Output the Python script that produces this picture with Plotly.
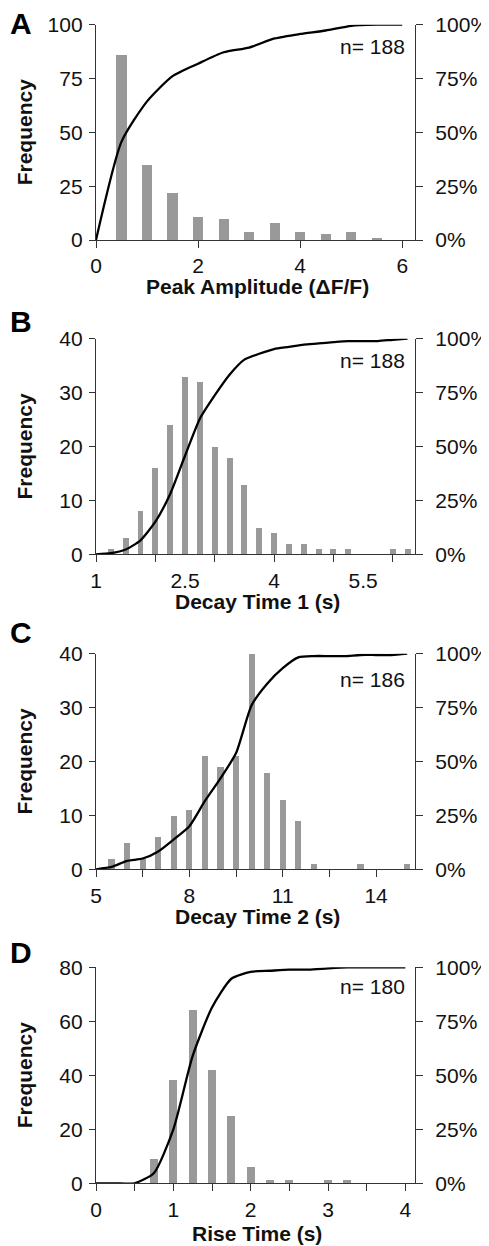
import plotly.graph_objects as go

# ---------------- data ----------------
# Panel A: Peak Amplitude (dF/F)
a_x = [0, 0.5, 1, 1.5, 2, 2.5, 3, 3.5, 4, 4.5, 5, 5.5, 6]
a_freq = [0, 86, 35, 22, 11, 10, 4, 8, 4, 3, 4, 1, 0]
a_cum = [0, 45.7, 64.4, 76.1, 81.9, 87.2, 89.4, 93.6, 95.7, 97.3, 99.5, 100, 100]

# Panel B: Decay Time 1 (s)
b_x = [1, 1.25, 1.5, 1.75, 2, 2.25, 2.5, 2.75, 3, 3.25, 3.5, 3.75, 4, 4.25, 4.5,
       4.75, 5, 5.25, 5.5, 5.75, 6, 6.25]
b_freq = [0, 1, 3, 8, 16, 24, 33, 32, 20, 18, 13, 5, 4, 2, 2, 1, 1, 1, 0, 0, 1, 1]
b_cum = [0, 0.5, 2.2, 6.5, 15.1, 28.0, 45.7, 62.9, 73.7, 83.3, 90.3, 93.0, 95.2,
         96.2, 97.3, 97.8, 98.4, 98.9, 98.9, 98.9, 99.5, 100]

# Panel C: Decay Time 2 (s)
c_x = [5, 5.5, 6, 6.5, 7, 7.5, 8, 8.5, 9, 9.5, 10, 10.5, 11, 11.5, 12, 12.5, 13,
       13.5, 14, 14.5, 15]
c_freq = [0, 2, 5, 2, 6, 10, 11, 21, 19, 21, 40, 18, 13, 9, 1, 0, 0, 1, 0, 0, 1]
c_cum = [0, 1.1, 3.9, 5.0, 8.3, 13.9, 20.0, 31.7, 42.2, 53.9, 76.1, 86.1, 93.3,
         98.3, 98.9, 98.9, 98.9, 99.4, 99.4, 99.4, 100]

# Panel D: Rise Time (s)
d_x = [0, 0.25, 0.5, 0.75, 1, 1.25, 1.5, 1.75, 2, 2.25, 2.5, 2.75, 3, 3.25, 3.5,
       3.75, 4]
d_freq = [0, 0, 0, 9, 38, 64, 42, 25, 6, 1, 1, 0, 1, 1, 0, 0, 0]
d_cum = [0, 0, 0, 4.8, 25.0, 59.0, 81.4, 94.7, 97.9, 98.4, 98.9, 98.9, 99.5, 100,
         100, 100, 100]

letters = ["A", "B", "C", "D"]
n_labels = ["n= 188", "n= 188", "n= 186", "n= 180"]
x_titles = ["Peak Amplitude (ΔF/F)", "Decay Time 1 (s)", "Decay Time 2 (s)", "Rise Time (s)"]
x_ticklabels = [[0, 2, 4, 6], [1, 2.5, 4, 5.5], [5, 8, 11, 14], [0, 1, 2, 3, 4]]
x_tickmarks = [[0, 2, 4, 6], [1, 2, 3, 4, 5, 6], [5, 6.5, 8, 9.5, 11, 12.5, 14],
               [0, 0.5, 1, 1.5, 2, 2.5, 3, 3.5, 4]]
y_ticks = [[0, 25, 50, 75, 100], [0, 10, 20, 30, 40], [0, 10, 20, 30, 40],
           [0, 20, 40, 60, 80]]
pct_ticks = [0, 25, 50, 75, 100]
pct_labels = ["0%", "25%", "50%", "75%", "100%"]

panels = [
    (a_x, a_freq, a_cum, [0, 6.25], 0.2),
    (b_x, b_freq, b_cum, [1, 6.375], 0.1),
    (c_x, c_freq, c_cum, [5, 15.25], 0.2),
    (d_x, d_freq, d_cum, [0, 4.125], 0.1),
]

# ---------------- layout geometry ----------------
# the page body has an 8px margin, so the figure starts at (8, 8) of the window
OFF = 8
W, H = 489 - OFF, 1246 - OFF
plot_tops = [24.7, 338.7, 653.7, 967.3]      # window px from top
plot_bottoms = [240.0, 554.3, 869.3, 1183.3]
x_left, x_right = 96.0, 415.0
letter_y = [23, 321, 632.5, 952.5]
n_y = [46.3, 360.7, 679.5, 986.7]
title_y = [286, 601, 916, 1233]


def px(x):
    return (x - OFF) / W


def py(y):
    return 1 - (y - OFF) / H


FONT = "Liberation Sans, Arial, sans-serif"
AX = "#333333"
BAR = "#999999"
TXT = "#111111"

fig = go.Figure()
layout = dict(
    width=W, height=H, margin=dict(l=0, r=0, t=0, b=0),
    paper_bgcolor="white", plot_bgcolor="white", template="none",
    showlegend=False, font=dict(family=FONT, size=21, color=TXT),
    bargap=0,
)
annotations = []

for i, (xs, fr, cum, xr, bw) in enumerate(panels):
    xn = i + 1
    yl = 2 * i + 1
    yr = 2 * i + 2
    xref = "x" if xn == 1 else f"x{xn}"
    ylref = "y" if yl == 1 else f"y{yl}"
    yrref = f"y{yr}"
    dom_y = [py(plot_bottoms[i]), py(plot_tops[i])]
    dom_x = [px(x_left), px(x_right)]

    fig.add_trace(go.Bar(x=xs, y=fr, width=bw, marker=dict(color=BAR, line=dict(width=0)),
                         xaxis=xref, yaxis=ylref))
    fig.add_trace(go.Scatter(x=xs, y=cum, mode="lines",
                             line=dict(color="black", width=2.3, shape="spline", smoothing=0.6),
                             xaxis=xref, yaxis=yrref))

    xkey = "xaxis" if xn == 1 else f"xaxis{xn}"
    ylkey = "yaxis" if yl == 1 else f"yaxis{yl}"
    yrkey = f"yaxis{yr}"
    layout[xkey] = dict(
        domain=dom_x, anchor=ylref, range=xr, showline=True, linecolor=AX, linewidth=1.3,
        showgrid=False, zeroline=False, tickmode="array", tickvals=x_ticklabels[i],
        ticks="", ticklabelstandoff=7, tickfont=dict(family=FONT, size=21, color=TXT),
        minor=dict(tickmode="array", tickvals=x_tickmarks[i], ticks="outside", ticklen=7,
                   tickcolor=AX, tickwidth=1.3, showgrid=False),
        automargin=False, fixedrange=True,
    )
    layout[ylkey] = dict(
        domain=dom_y, anchor=xref, range=[0, y_ticks[i][-1]], showline=True, linecolor=AX,
        linewidth=1.3, showgrid=False, zeroline=False, tickmode="array", tickvals=y_ticks[i],
        ticks="outside", ticklen=6, tickcolor=AX, tickwidth=1.3, ticklabelstandoff=2,
        tickfont=dict(family=FONT, size=21, color=TXT), automargin=False,
    )
    layout[yrkey] = dict(
        domain=dom_y, anchor=xref, overlaying=ylref, side="right", range=[0, 100],
        showline=True, linecolor=AX, linewidth=1.3, showgrid=False, zeroline=False,
        tickmode="array", tickvals=pct_ticks, ticktext=pct_labels, ticks="outside",
        ticklen=7, tickcolor=AX, tickwidth=1.3, ticklabelstandoff=8,
        tickfont=dict(family=FONT, size=21, color=TXT), automargin=False,
    )

    ymid = (py(plot_tops[i]) + py(plot_bottoms[i])) / 2
    annotations += [
        dict(text=f"<b>{letters[i]}</b>", x=px(21), y=py(letter_y[i]), xref="paper",
             yref="paper", showarrow=False, xanchor="center", yanchor="middle",
             font=dict(family=FONT, size=30, color="black")),
        dict(text=n_labels[i], x=px(407), y=py(n_y[i]), xref="paper", yref="paper",
             showarrow=False, xanchor="right", yanchor="middle",
             font=dict(family=FONT, size=21, color=TXT)),
        dict(text=f"<b>{x_titles[i]}</b>", x=px((x_left + x_right) / 2 + 2),
             y=py(title_y[i]), xref="paper", yref="paper", showarrow=False,
             xanchor="center", yanchor="middle",
             font=dict(family=FONT, size=21, color=TXT)),
        dict(text="<b>Frequency</b>", x=px(24), y=ymid, xref="paper", yref="paper",
             showarrow=False, xanchor="center", yanchor="middle", textangle=-90,
             font=dict(family=FONT, size=21, color=TXT)),
    ]

layout["annotations"] = annotations
fig.update_layout(**layout)
fig.write_html("out.html")
